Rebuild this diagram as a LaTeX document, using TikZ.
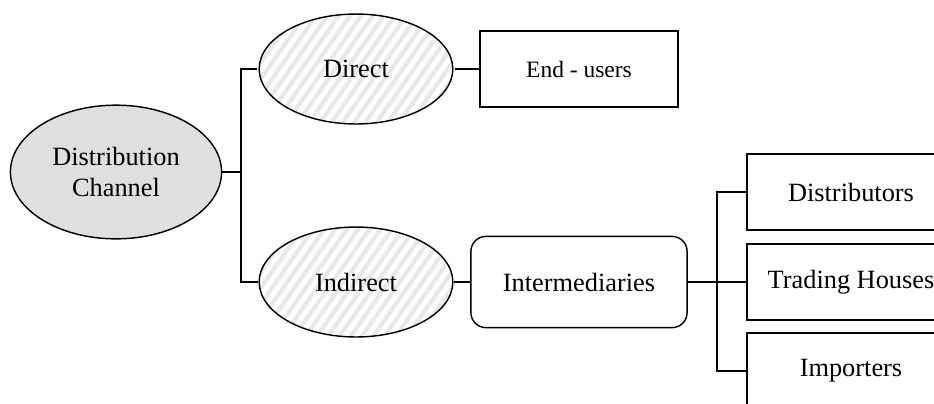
\documentclass[tikz,border=0pt]{standalone}
\usepackage{fontspec}
\setmainfont{Liberation Serif}
\usetikzlibrary{shapes.geometric, patterns.meta}

\tikzset{
    root/.style={ellipse, draw, fill=gray!25, inner sep=0pt, align=center,
        minimum width=3.38cm, minimum height=2.14cm},
    branch/.style={ellipse, draw, inner sep=0pt,
        minimum width=3.1cm, minimum height=1.76cm,
        pattern={Lines[angle=55, distance=4.2pt, line width=1.9pt]},
        pattern color=gray!18},
    leafbox/.style={rectangle, draw, inner sep=0pt,
        minimum width=3.33cm, minimum height=1.22cm},
    linkbox/.style={rectangle, draw, rounded corners=0.24cm, inner sep=0pt,
        minimum width=3.46cm, minimum height=1.46cm}
}

\begin{document}
\begin{tikzpicture}[x=0.016cm, y=-0.016cm, line width=0.65pt,
    font=\fontsize{12}{14.2}\selectfont]
    % page frame
    \useasboundingbox (0,0) rectangle (934,403);
    \clip (0,0) rectangle (934,403);

    % split points of the tree lines
    \coordinate (S1) at (241,172);
    \coordinate (S2) at (717,282);

    % left part: channel and its two kinds
    \node[root] (DC) at (116,172) {Distribution\\Channel};
    \node[branch] (DIR) at (356,69) {Direct};
    \node[branch] (IND) at (356,282) {Indirect};

    % middle boxes
    \node[leafbox, minimum width=3.17cm,
        font=\fontsize{10.7}{12.8}\selectfont] (EU) at (579,69) {End - users};
    \node[linkbox] (INT) at (579,282) {Intermediaries};

    % right boxes (run past the frame)
    \node[leafbox] (DIS) at (851,192) {Distributors};
    \node[leafbox] (TH) at (851,282) {Trading Houses};
    \node[leafbox] (IMP) at (851,371) {Importers};

    % tree lines
    \draw (DC.east) -- (S1);
    \draw (DIR.west) -| (S1) |- (IND.west);
    \draw (DIR.east) -- (EU.west);
    \draw (IND.east) -- (INT.west);
    \draw (INT.east) -- (S2) -- (TH.west);
    \draw (DIS.west) -| (S2) |- (IMP.west);
\end{tikzpicture}
\end{document}
